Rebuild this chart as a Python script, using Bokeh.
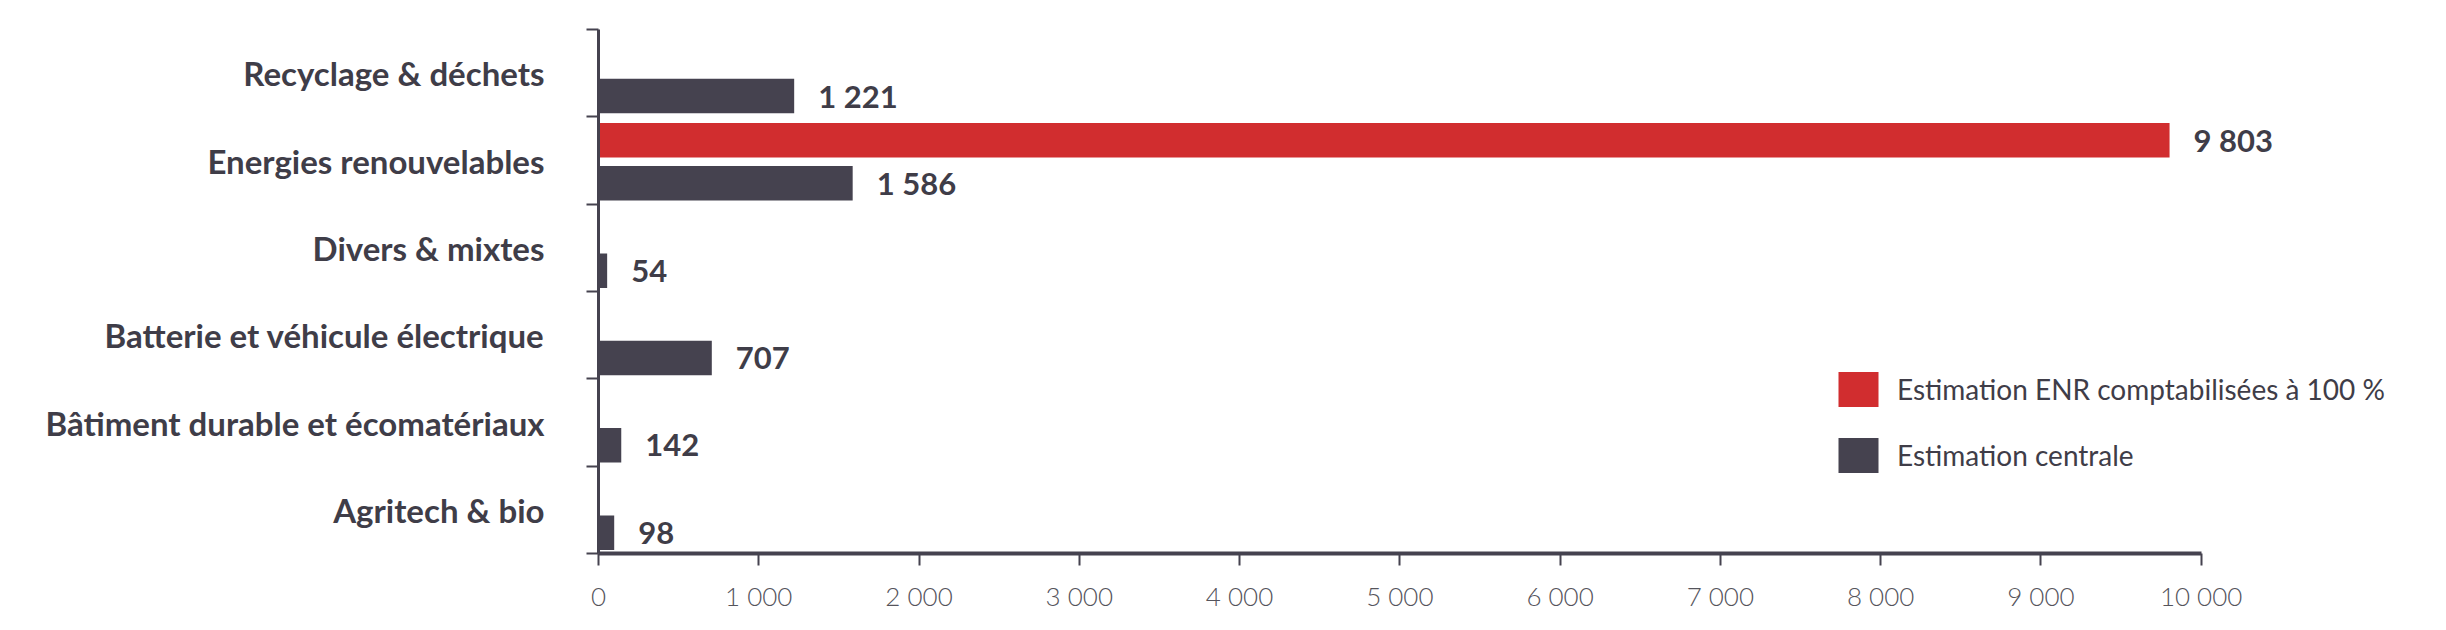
from bokeh.plotting import figure
from bokeh.models import (Range1d, FixedTicker, ColumnDataSource, Legend, LegendItem)
from bokeh.transform import dodge
from bokeh.core.properties import value
from bokeh.embed import file_html
from bokeh.resources import INLINE

# ---------------- data ----------------
categories = [
    "Recyclage & déchets",
    "Energies renouvelables",
    "Divers & mixtes",
    "Batterie et véhicule électrique",
    "Bâtiment durable et écomatériaux",
    "Agritech & bio",
]
central = [1221, 1586, 54, 707, 142, 98]
enr_100 = [None, 9803, None, None, None, None]
series_names = ["Estimation ENR comptabilisées à 100 %", "Estimation centrale"]
x_ticks = [0, 1000, 2000, 3000, 4000, 5000, 6000, 7000, 8000, 9000, 10000]
x_tick_labels = ["0", "1 000", "2 000", "3 000", "4 000", "5 000",
                 "6 000", "7 000", "8 000", "9 000", "10 000"]

# ---------------- style ----------------
DARK = "#45424f"
RED = "#d12d2f"
TEXT = "#3f3d48"
TICK_TXT = "#55545c"
FONT = "Lato"

n = len(categories)
ycent = [n - 0.5 - i for i in range(n)]

def fmt(v):
    return f"{v:,}".replace(",", " ")

src_c = ColumnDataSource(dict(y=ycent, v=central, lab=[fmt(v) for v in central]))
ry = [ycent[i] for i, v in enumerate(enr_100) if v is not None]
rv = [v for v in enr_100 if v is not None]
src_r = ColumnDataSource(dict(y=ry, v=rv, lab=[fmt(v) for v in rv]))

W, H = 2430, 614
p = figure(width=W, height=H, output_backend="svg", toolbar_location=None,
           x_range=Range1d(0, 11400), y_range=Range1d(0, n),
           min_border_left=598, min_border_right=5, min_border_top=29,
           min_border_bottom=58, background_fill_color="white",
           border_fill_color="white", outline_line_color=None)
p.grid.visible = False

OFF_R, OFF_C, BH = 0.233, -0.261, 0.395

r_red = p.hbar(y=dodge("y", OFF_R, range=p.y_range), right="v", left=0, height=BH,
               source=src_r, fill_color=RED, line_color=None)
r_dark = p.hbar(y=dodge("y", OFF_C, range=p.y_range), right="v", left=0, height=BH,
                source=src_c, fill_color=DARK, line_color=None)

for s, off in ((src_r, OFF_R), (src_c, OFF_C)):
    p.text(x="v", y=dodge("y", off, range=p.y_range), text="lab", source=s,
           x_offset=24, text_align="left", text_baseline="middle",
           text_font=value(FONT), text_font_style="bold",
           text_font_size="31px", text_color=TEXT)

# x axis
xa = p.xaxis[0]
xa.ticker = FixedTicker(ticks=x_ticks)
xa.major_label_overrides = {t: l for t, l in zip(x_ticks, x_tick_labels)}
xa.bounds = (0, 10000)
xa.axis_line_color = DARK
xa.axis_line_width = 4
xa.major_tick_line_color = DARK
xa.major_tick_line_width = 2
xa.major_tick_in = 0
xa.major_tick_out = 12
xa.minor_tick_line_color = None
xa.major_label_text_font = FONT + " Light"
xa.major_label_text_font_size = "26px"
xa.major_label_text_color = TICK_TXT
xa.major_label_standoff = 14

# y axis
ya = p.yaxis[0]
ya.ticker = FixedTicker(ticks=ycent, minor_ticks=list(range(0, n + 1)))
ya.major_label_overrides = {y: c for y, c in zip(ycent, categories)}
ya.axis_line_color = DARK
ya.axis_line_width = 3
ya.major_tick_line_color = None
ya.major_tick_in = 0
ya.major_tick_out = 0
ya.minor_tick_line_color = DARK
ya.minor_tick_line_width = 2
ya.minor_tick_in = 0
ya.minor_tick_out = 12
ya.major_label_text_font = FONT
ya.major_label_text_font_style = "bold"
ya.major_label_text_font_size = "33px"
ya.major_label_text_color = TEXT
ya.major_label_standoff = 42

legend = Legend(items=[LegendItem(label=series_names[0], renderers=[r_red]),
                       LegendItem(label=series_names[1], renderers=[r_dark])],
                location=(1235, 76), orientation="vertical",
                glyph_width=50, glyph_height=44, label_standoff=14, spacing=22,
                padding=0, margin=0, border_line_color=None,
                background_fill_alpha=0,
                label_text_font=FONT, label_text_font_size="28px",
                label_text_color=TEXT)
p.add_layout(legend, "center")

open("out.html", "w").write(file_html(p, INLINE))
